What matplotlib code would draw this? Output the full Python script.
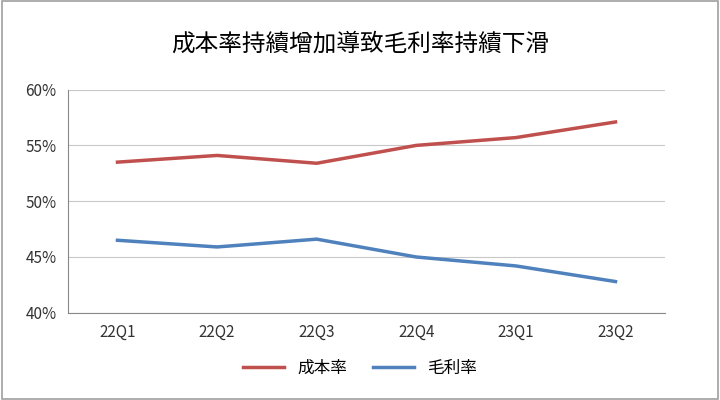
import matplotlib.pyplot as plt
from matplotlib import font_manager
from matplotlib.ticker import FuncFormatter

quarters = ["22Q1", "22Q2", "22Q3", "22Q4", "23Q1", "23Q2"]
cost_rate = [53.5, 54.1, 53.4, 55.0, 55.7, 57.1]
gross_margin = [46.5, 45.9, 46.6, 45.0, 44.2, 42.8]

# find whatever CJK family name is registered
cjk = [f.name for f in font_manager.fontManager.ttflist if "CJK" in f.name]
pref = [n for n in cjk if "TC" in n] or cjk
plt.rcParams["font.family"] = "sans-serif"
plt.rcParams["font.sans-serif"] = pref[:1] + ["DejaVu Sans"]

fig = plt.figure(figsize=(7.2, 4.0), dpi=100)
fig.patches.append(plt.Rectangle((0.003, 0.003), 0.994, 0.994, transform=fig.transFigure,
                                 fill=False, edgecolor="#a0a0a0", linewidth=1.2))
ax = fig.add_axes([0.094, 0.218, 0.83, 0.558])

x = range(len(quarters))
ax.plot(x, cost_rate, color="#c0504d", linewidth=2.5, label="成本率")
ax.plot(x, gross_margin, color="#4f81bd", linewidth=2.5, label="毛利率")

ax.set_xlim(-0.5, len(quarters) - 0.5)
ax.set_ylim(40, 60)
ax.set_yticks([40, 45, 50, 55, 60])
ax.yaxis.set_major_formatter(FuncFormatter(lambda v, p: f"{v:.0f}%"))
ax.set_xticks(list(x))
ax.set_xticklabels(quarters)
ax.grid(axis="y", color="#c8c8c8", linewidth=0.8)
ax.set_axisbelow(True)
for s in ["top", "right"]:
    ax.spines[s].set_visible(False)
ax.spines["left"].set_color("#888888")
ax.spines["bottom"].set_color("#888888")
ax.tick_params(labelsize=11, colors="#333333", length=0, pad=8)

fig.text(0.5, 0.89, "成本率持續增加導致毛利率持續下滑", ha="center", va="center", fontsize=17)
fig.legend(loc="center", bbox_to_anchor=(0.5, 0.08), ncol=2, frameon=False, fontsize=12,
           handlelength=2.5, columnspacing=1.5)

fig.savefig("out.png", dpi=100)
